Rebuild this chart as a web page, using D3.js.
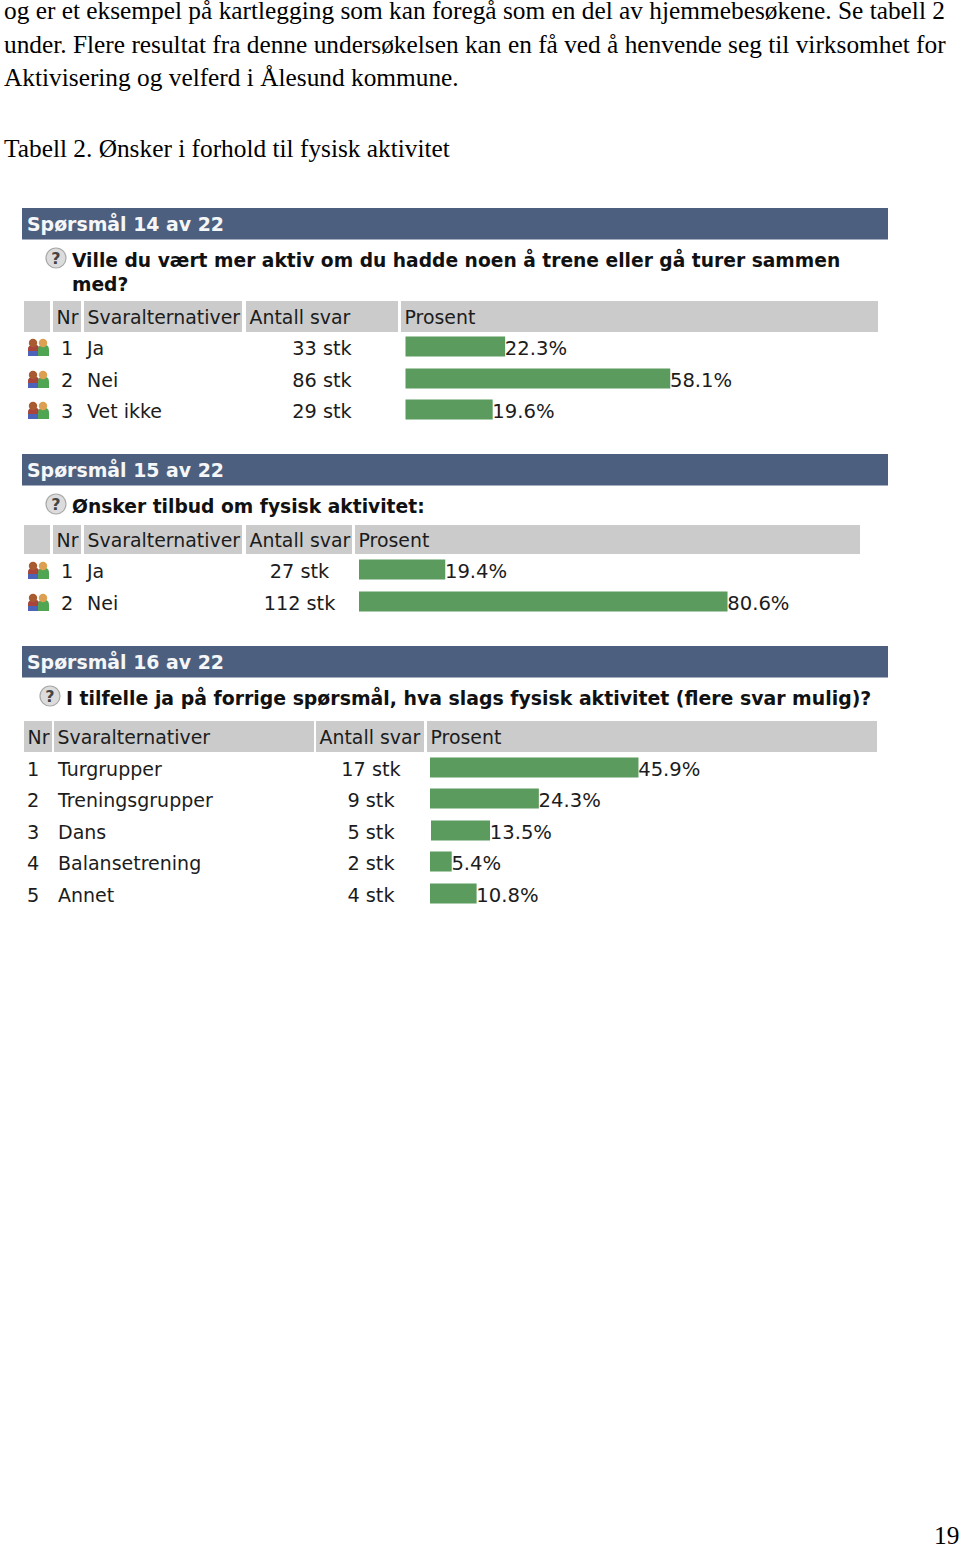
<!DOCTYPE html>
<html><head><meta charset="utf-8">
<script src="https://cdn.jsdelivr.net/npm/d3@7/dist/d3.min.js"></script>
<style>html,body{margin:0;padding:0;background:#fff}svg{display:block}</style>
</head><body><svg id="c" width="960" height="1547"></svg>
<script>
const introLines = [
 "og er et eksempel på kartlegging som kan foregå som en del av hjemmebesøkene. Se tabell 2",
 "under. Flere resultat fra denne undersøkelsen kan en få ved å henvende seg til virksomhet for",
 "Aktivisering og velferd i Ålesund kommune."];
const tableCaption = "Tabell 2. Ønsker i forhold til fysisk aktivitet";
const pageNumber = "19";

const q14Title = "Spørsmål 14 av 22";
const q14Question = ["Ville du vært mer aktiv om du hadde noen å trene eller gå turer sammen","med?"];
const q14Labels = ["Ja","Nei","Vet ikke"];
const q14Counts = [33,86,29];
const q14Percent = [22.3,58.1,19.6];

const q15Title = "Spørsmål 15 av 22";
const q15Question = ["Ønsker tilbud om fysisk aktivitet:"];
const q15Labels = ["Ja","Nei"];
const q15Counts = [27,112];
const q15Percent = [19.4,80.6];

const q16Title = "Spørsmål 16 av 22";
const q16Question = ["I tilfelle ja på forrige spørsmål, hva slags fysisk aktivitet (flere svar mulig)?"];
const q16Labels = ["Turgrupper","Treningsgrupper","Dans","Balansetrening","Annet"];
const q16Counts = [17,9,5,2,4];
const q16Percent = [45.9,24.3,13.5,5.4,10.8];

const headerLabels = ["Nr","Svaralternativer","Antall svar","Prosent"];

const svg = d3.select("#c");
const serif = "'Liberation Serif',serif", sans = "'DejaVu Sans',sans-serif";
const ink = "#1c1c1c";
const serifSize = 25.35;

svg.selectAll("text.intro").data(introLines).join("text").attr("class","intro")
  .attr("x",4).attr("y",(d,i)=>[19,53,86][i]).text(d=>d)
  .attr("font-family",serif).attr("font-size",serifSize).attr("fill","#000");
svg.append("text").attr("x",4).attr("y",157).text(tableCaption)
  .attr("font-family",serif).attr("font-size",serifSize).attr("fill","#000");
svg.append("text").attr("x",934).attr("y",1544).text(pageNumber)
  .attr("font-family",serif).attr("font-size",serifSize).attr("fill","#000");

const scaleW = d3.scaleLinear().domain([0.7,100]).range([0,458]);

function icon(g,x,y){
  g.append("path").attr("d",`M${x-10},${y+8} v-6 q0,-4 5,-4 h3 q3,0 3,4 v6 z`).attr("fill","#4d63b8");
  g.append("path").attr("d",`M${x-10},${y+3} v-2 q0,-4 5,-4 h3 q3,0 3,4 v2 z`).attr("fill","#a8443a");
  g.append("path").attr("d",`M${x},${y+8} v-6 q0,-5 4,-5 h3 q4,0 4,5 v6 z`).attr("fill","#4fa552");
  g.append("circle").attr("cx",x-5).attr("cy",y-5).attr("r",4.2).attr("fill","#a85a30");
  g.append("circle").attr("cx",x+5).attr("cy",y-5).attr("r",4.2).attr("fill","#dd9f52");
}
function qmark(g,x,y){
  g.append("circle").attr("cx",x).attr("cy",y).attr("r",10).attr("fill","#dcdcdc").attr("stroke","#a8a8a8").attr("stroke-width",1.2);
  g.append("text").attr("x",x).attr("y",y+6).attr("text-anchor","middle").text("?")
   .attr("font-family",sans).attr("font-weight","bold").attr("font-size",16).attr("fill","#444");
}

function panel(o){
  const g = svg.append("g");
  g.append("rect").attr("x",22).attr("y",o.bandY).attr("width",866).attr("height",31.5).attr("fill","#4c5f7e");
  g.append("text").attr("x",27).attr("y",o.bandY+22.5).text(o.title)
    .attr("font-family",sans).attr("font-weight","bold").attr("font-size",18.9).attr("fill","#f4f6f8");
  qmark(g,o.qmarkX,o.qmarkY);
  g.selectAll("text.q").data(o.question).join("text").attr("class","q")
    .attr("x",o.qmarkX+16).attr("y",(d,i)=>o.qY+i*24).text(d=>d)
    .attr("font-family",sans).attr("font-weight","bold").attr("font-size",o.qSize).attr("fill","#111");
  g.selectAll("rect.h").data(o.headCols).join("rect").attr("class","h")
    .attr("x",d=>d[0]).attr("y",o.headY).attr("width",d=>d[1]-d[0]).attr("height",o.headH).attr("fill","#cbcbcb");
  const hc = o.headCols.slice(-4);
  g.selectAll("text.ht").data(headerLabels).join("text").attr("class","ht")
    .attr("x",(d,i)=>hc[i][0]+3.5).attr("y",o.headY+o.headH/2+7).text(d=>d)
    .attr("font-family",sans).attr("font-size",18.9).attr("fill",ink);
  const y = i=>o.rowY[i];
  o.labels.forEach((lab,i)=>{
    if(o.icons) icon(g,38,y(i));
    const t=(x,s,a,fs)=>g.append("text").attr("x",x).attr("y",y(i)+7).attr("text-anchor",a||"start").text(s)
      .attr("font-family",sans).attr("font-size",fs||19.3).attr("fill",ink);
    t(o.nrX,String(i+1));
    t(o.labX,lab,"start",19);
    t(o.countX,o.counts[i]+" stk","middle");
    const x0=(o.barOffset&&o.barOffset[i])||0;
    g.append("rect").attr("x",o.barX+x0).attr("y",y(i)-11.5).attr("width",scaleW(o.percent[i])).attr("height",20).attr("fill","#5b9b5d");
    t(o.barX+x0+scaleW(o.percent[i])-0.3,d3.format(".1f")(o.percent[i])+"%","start",19.6);
  });
}

panel({title:q14Title,question:q14Question,labels:q14Labels,counts:q14Counts,percent:q14Percent,icons:true,
  bandY:208,qmarkX:56,qmarkY:258,qY:267,qSize:18.68,headY:301,headH:31,
  headCols:[[24,50],[53,81],[84,242],[246,398],[401,878]],rowY:[348,380,411],nrX:61,labX:87,countX:322,barX:405.5});
panel({title:q15Title,question:q15Question,labels:q15Labels,counts:q15Counts,percent:q15Percent,icons:true,
  bandY:454,qmarkX:56,qmarkY:504,qY:513,qSize:18.7,headY:525,headH:29,
  headCols:[[24,50],[53,81],[84,242],[246,352],[355,860]],rowY:[571,603],nrX:61,labX:87,countX:299.5,barX:359});
panel({title:q16Title,question:q16Question,labels:q16Labels,counts:q16Counts,percent:q16Percent,icons:false,
  bandY:646,qmarkX:50,qmarkY:696,qY:705,qSize:18.89,headY:721,headH:31,
  headCols:[[24,52],[54,314],[316,424],[427,877]],rowY:[769,800,832,863,895],nrX:27,labX:58,countX:371,barX:430,barOffset:[0,0,1,0,0]});
</script></body></html>
